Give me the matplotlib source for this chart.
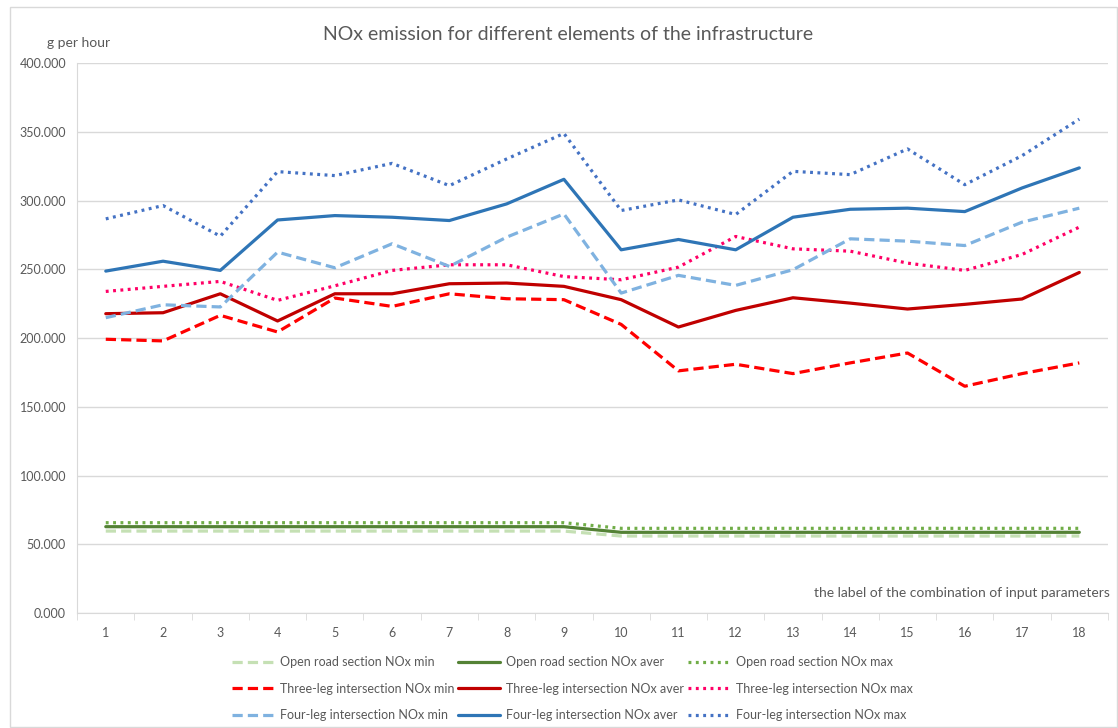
import matplotlib.pyplot as plt
from matplotlib.patches import Rectangle

plt.rcParams["font.family"] = ["Lato", "DejaVu Sans"]

labels_x = [str(i) for i in range(1, 19)]

open_min = [59.6] * 9 + [56.0] * 9
open_aver = [62.8] * 9 + [58.7] * 9
open_max = [65.7] * 9 + [61.6] * 9

three_min = [199.2, 198.0, 216.6, 204.5, 229.2, 223.1, 232.3, 228.7, 228.0,
             210.0, 176.2, 181.0, 174.2, 182.0, 189.2, 165.0, 174.2, 182.0]
three_aver = [217.8, 218.5, 232.3, 212.5, 232.3, 232.3, 239.6, 240.1, 237.7,
              228.0, 208.1, 220.2, 229.4, 225.5, 221.2, 224.6, 228.5, 247.8]
three_max = [234.0, 237.7, 241.3, 227.5, 238.1, 249.3, 253.4, 253.4, 244.8,
             242.5, 251.7, 274.0, 265.0, 263.3, 254.6, 249.3, 260.9, 280.8]

four_min = [214.9, 224.3, 222.7, 262.6, 251.2, 268.7, 252.2, 273.5, 290.4,
            232.8, 245.7, 238.4, 249.8, 272.3, 270.6, 267.4, 284.4, 294.6]
four_aver = [248.8, 256.0, 249.3, 286.0, 289.2, 288.0, 285.6, 297.7, 315.6,
             264.3, 271.8, 264.3, 288.0, 293.8, 294.6, 292.1, 309.3, 323.9]
four_max = [286.8, 296.5, 274.2, 321.2, 318.3, 327.2, 311.0, 330.4, 349.0,
            292.9, 300.6, 290.0, 321.4, 319.0, 337.7, 311.7, 332.8, 359.4]

x = list(range(1, 19))
grey = "#595959"
dash = (0, (3.2, 1.6))
dot = (0, (0.9, 1.4))

fig = plt.figure(figsize=(11.18, 7.28), dpi=100)
ax = fig.add_axes([0.069, 0.158, 0.922, 0.755])

series = [
    (open_min, "Open road section NOx min", "#C5E0B4", dash),
    (open_aver, "Open road section NOx aver", "#548235", "-"),
    (open_max, "Open road section NOx max", "#70AD47", dot),
    (three_min, "Three-leg intersection NOx min", "#FF0000", dash),
    (three_aver, "Three-leg intersection NOx aver", "#C00000", "-"),
    (three_max, "Three-leg intersection NOx max", "#FF0066", dot),
    (four_min, "Four-leg intersection NOx min", "#7FB2E0", dash),
    (four_aver, "Four-leg intersection NOx aver", "#2E75B6", "-"),
    (four_max, "Four-leg intersection NOx max", "#4472C4", dot),
]
handles = []
for vals, lab, col, ls in series:
    h, = ax.plot(x, vals, color=col, linestyle=ls, lw=2.3, label=lab,
                 solid_capstyle="round", dash_capstyle="butt")
    handles.append(h)

ax.set_xlim(0.5, 18.5)
ax.set_ylim(0, 400)
ax.set_yticks(range(0, 401, 50))
ax.set_yticklabels([f"{v:.3f}" for v in range(0, 401, 50)], color=grey, fontsize=9)
ax.set_xticks(x)
ax.set_xticklabels(labels_x, color=grey, fontsize=9)
ax.set_xticks([i + 0.5 for i in range(0, 19)], minor=True)
ax.tick_params(axis="x", which="major", length=0, pad=10)
ax.tick_params(axis="x", which="minor", length=5, color="#D9D9D9")
ax.tick_params(axis="y", length=0, pad=8)
ax.grid(axis="y", color="#D9D9D9", lw=1)
ax.set_axisbelow(True)
for s in ["top", "right"]:
    ax.spines[s].set_visible(False)
for s in ["left", "bottom"]:
    ax.spines[s].set_color("#D9D9D9")

ax.text(1.002, 0.025, "the label of the combination of input parameters",
        transform=ax.transAxes, ha="right", va="bottom", color=grey, fontsize=10)
fig.text(0.508, 0.953, "NOx emission for different elements of the infrastructure",
         ha="center", va="center", color=grey, fontsize=14)
fig.text(0.042, 0.941, "g per hour", ha="left", va="center", color=grey, fontsize=10)

order = [0, 3, 6, 1, 4, 7, 2, 5, 8]
fig.legend([handles[i] for i in order], [series[i][1] for i in order],
           ncol=3, loc="upper center", bbox_to_anchor=(0.512, 0.114),
           frameon=False, fontsize=9, handlelength=3.3, handletextpad=0.5,
           columnspacing=0.35, labelspacing=1.15, labelcolor=grey)

fig.patches.append(Rectangle((0.009, 0.002), 0.99, 0.989, transform=fig.transFigure,
                             fill=False, edgecolor="#D9D9D9", lw=1))

fig.savefig("out.png", dpi=100)
